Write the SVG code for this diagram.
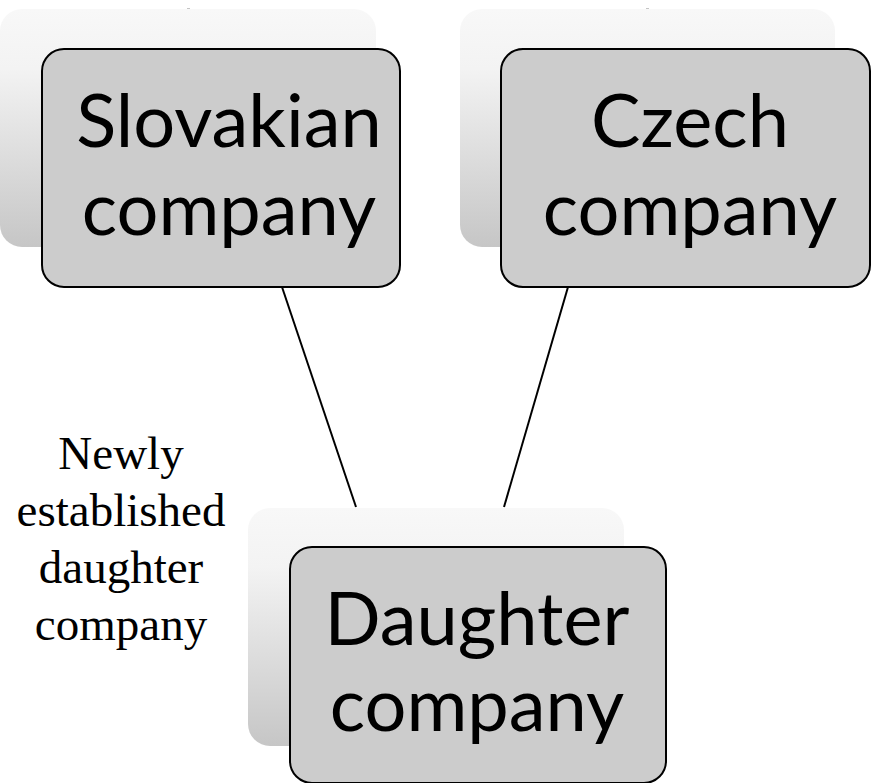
<svg xmlns="http://www.w3.org/2000/svg" width="871" height="783" viewBox="0 0 871 783">
  <style>
    .back { stroke: none; fill: url(#backFade); }
    .front { fill: #cccccc; stroke: #000000; stroke-width: 2; }
    .label { font-family: Lato, "Open Sans", sans-serif; font-size: 74px; fill: #000000; text-anchor: middle; }
    .note { font-family: "Liberation Serif", "Times New Roman", serif; font-size: 47px; fill: #000000; text-anchor: middle; }
    .link { stroke: #000000; stroke-width: 2; fill: none; }
    .stub { stroke: #b0b0b0; stroke-width: 1.5; }
  </style>
  <defs>
    <linearGradient id="backFade" x1="0" y1="0" x2="0" y2="1">
      <stop offset="0" stop-color="#f8f8f8"/>
      <stop offset="0.25" stop-color="#f3f3f3"/>
      <stop offset="1" stop-color="#c6c6c6"/>
    </linearGradient>
  </defs>

  <rect width="871" height="783" fill="#ffffff"/>

  <!-- connectors -->
  <g id="connectors">
    <line class="link" x1="282" y1="287" x2="356" y2="507"/>
    <line class="link" x1="568" y1="287" x2="504" y2="507"/>
    <line class="stub" x1="187" y1="9" x2="190" y2="9"/>
    <line class="stub" x1="646" y1="9" x2="649" y2="9"/>
  </g>

  <g id="slovakian">
    <rect class="back" x="0" y="9" width="376" height="238" rx="22"/>
    <rect class="front" x="42" y="49" width="358" height="238" rx="22"/>
    <text class="label" x="229" y="147">Slovakian</text>
    <text class="label" x="229" y="235">company</text>
  </g>

  <g id="czech">
    <rect class="back" x="460" y="9" width="375" height="238" rx="22"/>
    <rect class="front" x="501" y="49" width="369" height="238" rx="22"/>
    <text class="label" x="690" y="147">Czech</text>
    <text class="label" x="690" y="235">company</text>
  </g>

  <g id="daughter">
    <rect class="back" x="248" y="508" width="376" height="238" rx="22"/>
    <rect class="front" x="290" y="547" width="376" height="236" rx="22"/>
    <text class="label" x="477" y="645">Daughter</text>
    <text class="label" x="477" y="731">company</text>
  </g>

  <g id="note">
    <text class="note" x="121" y="469">Newly</text>
    <text class="note" x="121" y="526">established</text>
    <text class="note" x="121" y="583">daughter</text>
    <text class="note" x="121" y="640">company</text>
  </g>
</svg>
